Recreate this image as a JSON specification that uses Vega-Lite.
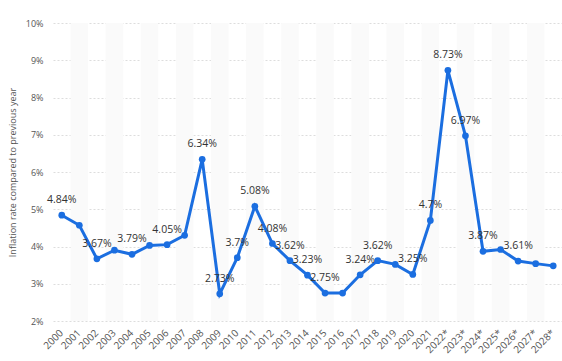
{
  "$schema": "https://vega.github.io/schema/vega-lite/v6.json",
  "width": 509,
  "height": 298,
  "autosize": {"type": "none"},
  "padding": {"left": 53, "top": 23, "right": 0, "bottom": 40},
  "background": "white",
  "config": {
    "view": {"stroke": null},
    "font": "Open Sans"
  },
  "data": {
    "values": [
      {"year": "2000", "rate": 4.84, "label": "4.84%"},
      {"year": "2001", "rate": 4.57, "label": null},
      {"year": "2002", "rate": 3.67, "label": "3.67%"},
      {"year": "2003", "rate": 3.9, "label": null},
      {"year": "2004", "rate": 3.79, "label": "3.79%"},
      {"year": "2005", "rate": 4.03, "label": null},
      {"year": "2006", "rate": 4.05, "label": "4.05%"},
      {"year": "2007", "rate": 4.3, "label": null},
      {"year": "2008", "rate": 6.34, "label": "6.34%"},
      {"year": "2009", "rate": 2.73, "label": "2.73%"},
      {"year": "2010", "rate": 3.7, "label": "3.7%"},
      {"year": "2011", "rate": 5.08, "label": "5.08%"},
      {"year": "2012", "rate": 4.08, "label": "4.08%"},
      {"year": "2013", "rate": 3.62, "label": "3.62%"},
      {"year": "2014", "rate": 3.23, "label": "3.23%"},
      {"year": "2015", "rate": 2.75, "label": "2.75%"},
      {"year": "2016", "rate": 2.75, "label": null},
      {"year": "2017", "rate": 3.24, "label": "3.24%"},
      {"year": "2018", "rate": 3.62, "label": "3.62%"},
      {"year": "2019", "rate": 3.52, "label": null},
      {"year": "2020", "rate": 3.25, "label": "3.25%"},
      {"year": "2021", "rate": 4.7, "label": "4.7%"},
      {"year": "2022*", "rate": 8.73, "label": "8.73%"},
      {"year": "2023*", "rate": 6.97, "label": "6.97%"},
      {"year": "2024*", "rate": 3.87, "label": "3.87%"},
      {"year": "2025*", "rate": 3.92, "label": null},
      {"year": "2026*", "rate": 3.61, "label": "3.61%"},
      {"year": "2027*", "rate": 3.54, "label": null},
      {"year": "2028*", "rate": 3.48, "label": null}
    ]
  },
  "encoding": {
    "x": {
      "field": "year",
      "type": "ordinal",
      "scale": {
        "type": "band",
        "paddingInner": 0,
        "paddingOuter": 0,
        "domain": ["2000", "2001", "2002", "2003", "2004", "2005", "2006", "2007", "2008", "2009", "2010", "2011", "2012", "2013", "2014", "2015", "2016", "2017", "2018", "2019", "2020", "2021", "2022*", "2023*", "2024*", "2025*", "2026*", "2027*", "2028*"]
      },
      "axis": {
        "title": null,
        "labelAngle": -45,
        "labelAlign": "right",
        "labelBaseline": "middle",
        "labelColor": "#555555",
        "labelFontSize": 10,
        "labelPadding": 10,
        "labelOverlap": false,
        "ticks": false,
        "domain": false,
        "grid": false
      }
    },
    "y": {
      "field": "rate",
      "type": "quantitative",
      "scale": {"domain": [2, 10], "nice": false, "zero": false},
      "axis": {
        "title": "Inflation rate compared to previous year",
        "titleFontSize": 9,
        "titleFontWeight": "normal",
        "titleColor": "#555555",
        "titlePadding": 8,
        "values": [2, 3, 4, 5, 6, 7, 8, 9, 10],
        "labelExpr": "datum.value + '%'",
        "labelOverlap": false,
        "labelColor": "#555555",
        "labelFontSize": 9,
        "labelPadding": 10,
        "ticks": false,
        "domain": false,
        "gridColor": "#dddddd",
        "gridDash": [2, 2]
      }
    }
  },
  "layer": [
    {
      "transform": [
        {"filter": {"field": "year", "oneOf": ["2001", "2003", "2005", "2007", "2009", "2011", "2013", "2015", "2017", "2019", "2021", "2023*", "2025*", "2027*"]}}
      ],
      "mark": {"type": "bar", "color": "#fafafa"},
      "encoding": {
        "y": {"datum": 10, "type": "quantitative"},
        "y2": {"datum": 2}
      }
    },
    {
      "mark": {"type": "line", "color": "#1b6ee0", "strokeWidth": 3, "point": {"filled": true, "size": 45, "color": "#1b6ee0"}}
    },
    {
      "transform": [{"filter": "datum.label != null"}],
      "mark": {"type": "text", "dy": -15, "fontSize": 10.5, "color": "#333333", "fontWeight": 500},
      "encoding": {
        "text": {"field": "label"}
      }
    }
  ]
}
